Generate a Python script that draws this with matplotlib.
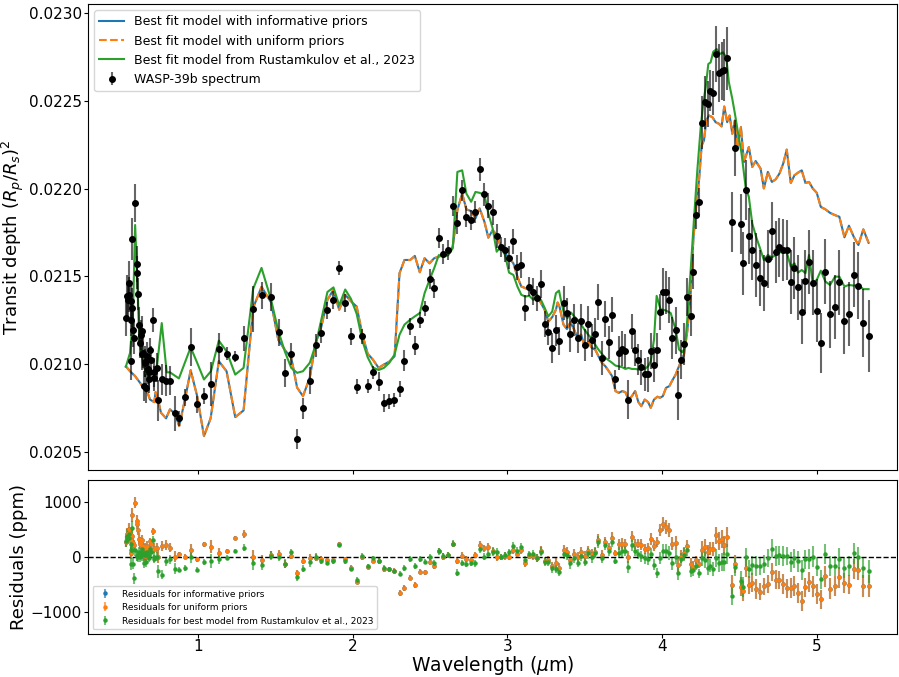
import numpy as np
import matplotlib
matplotlib.use('Agg')
import matplotlib.pyplot as plt
from matplotlib.ticker import FormatStrFormatter

# WASP-39b spectrum (wavelength in micron, depth and error in ppm)
wl = [0.534,0.540,0.545,0.555,0.557,0.566,0.568,0.570,0.572,0.574,
      0.581,0.587,0.594,0.605,0.607,0.611,0.621,0.623,0.629,0.637,
      0.639,0.647,0.649,0.655,0.658,0.665,0.669,0.675,0.681,0.684,
      0.690,0.695,0.708,0.716,0.718,0.734,0.744,0.766,0.794,0.819,
      0.852,0.879,0.918,0.953,0.995,1.039,1.084,1.135,1.185,1.241,
      1.295,1.357,1.411,1.474,1.523,1.561,1.603,1.641,1.679,1.723,
      1.761,1.798,1.837,1.875,1.913,1.952,1.989,2.026,2.063,2.097,
      2.131,2.168,2.202,2.237,2.268,2.303,2.335,2.372,2.402,2.434,
      2.465,2.497,2.527,2.557,2.587,2.617,2.647,2.677,2.708,2.735,
      2.766,2.794,2.821,2.852,2.877,2.905,2.931,2.959,2.985,3.011,
      3.039,3.065,3.090,3.116,3.142,3.168,3.192,3.217,3.241,3.265,
      3.290,3.314,3.337,3.363,3.385,3.408,3.432,3.454,3.477,3.499,
      3.523,3.546,3.568,3.589,3.611,3.634,3.656,3.677,3.699,3.721,
      3.742,3.763,3.783,3.805,3.826,3.847,3.866,3.888,3.910,3.927,
      3.948,3.970,3.987,4.006,4.028,4.047,4.066,4.087,4.105,4.125,
      4.140,4.163,4.185,4.202,4.221,4.239,4.256,4.277,4.295,4.310,
      4.327,4.348,4.368,4.385,4.402,4.421,4.454,4.474,4.508,4.525,
      4.544,4.561,4.583,4.606,4.632,4.658,4.684,4.710,4.735,4.759,
      4.783,4.806,4.832,4.855,4.879,4.903,4.927,4.950,4.974,5.000,
      5.026,5.056,5.086,5.118,5.146,5.179,5.208,5.239,5.268,5.300,
      5.335]
depth = [21265,21390,21367,21465,21396,21358,21254,21022,21713,21322,
         21197,21152,21919,21571,21522,21401,21226,21124,21169,21188,
         21061,21067,20876,21016,21010,20863,21046,20976,20954,20914,
         21080,21027,21254,20954,20920,20982,20795,20914,20908,20908,
         20721,20693,20812,21097,20772,20819,20891,21090,21061,21044,
         21148,21315,21392,21383,21182,20952,21061,20578,20749,20908,
         21108,21179,21307,21367,21549,21350,21159,20872,21159,20876,
         20955,20901,20779,20789,20795,20861,21022,21216,21107,21252,
         21320,21485,21434,21721,21626,21651,21900,21806,21991,21840,
         21821,21865,22110,21968,21902,21865,21732,21666,21649,21607,
         21700,21553,21566,21320,21443,21414,21375,21458,21231,21182,
         21094,21193,21131,21349,21292,21173,21254,21148,21248,21112,
         21230,21137,21175,21354,21037,21258,21125,21282,20914,21065,
         21090,21077,20800,21188,21084,21027,20984,20944,20944,21077,
         20999,21084,21298,21414,21410,21366,21150,21193,20823,21027,
         21118,21384,21277,21528,21849,21925,22375,22492,22482,22558,
         22545,22766,22658,22671,22675,22741,21808,22229,21798,21575,
         21991,21730,21651,21566,21490,21464,21597,21759,21639,21665,
         21651,21651,21469,21547,21439,21299,21477,21583,21465,21305,
         21122,21528,21286,21326,21468,21248,21286,21509,21448,21235,
         21163]
err = [105,120,110,123,100,110,95,110,120,110,
       100,95,108,100,95,90,100,90,85,90,
       95,90,85,90,80,85,80,85,80,75,
       70,75,68,85,70,85,118,90,87,85,
       100,42,47,108,47,47,125,88,38,33,
       71,132,75,78,75,78,63,57,62,75,
       66,58,50,52,40,50,47,43,43,38,
       38,54,50,43,40,47,57,47,52,47,
       43,55,54,57,57,57,57,62,60,59,
       57,62,66,66,71,71,68,57,68,64,
       73,71,75,75,55,75,71,80,74,71,
       85,90,80,95,85,100,90,85,95,90,
       100,95,90,104,95,100,95,100,52,95,
       100,95,113,100,95,90,100,95,100,104,
       100,95,104,132,123,132,118,132,140,113,
       120,110,115,100,76,76,151,151,132,118,
       127,160,165,165,175,180,170,160,170,180,
       170,160,170,180,160,160,165,165,175,170,
       175,170,180,175,185,184,175,180,185,180,
       170,185,190,180,185,190,180,185,190,195,
       206]

# best fit models (ppm)
wl_fit = [0.534,0.561,0.594,0.626,0.647,0.675,0.690,0.718,0.726,0.744,
          0.761,0.794,0.819,0.852,0.879,0.916,0.953,0.995,1.039,1.082,
          1.135,1.185,1.241,1.295,1.357,1.411,1.473,1.519,1.565,1.603,
          1.641,1.679,1.723,1.761,1.798,1.837,1.875,1.913,1.952,1.990,
          2.026,2.063,2.097,2.131,2.168,2.202,2.237,2.271,2.303,2.335,
          2.372,2.402,2.434,2.465,2.497,2.527,2.557,2.587,2.617,2.647,
          2.677,2.708,2.735,2.766,2.794,2.821,2.852,2.877,2.905,2.931,
          2.959,2.985,3.011,3.039,3.065,3.090,3.116,3.142,3.168,3.192,
          3.217,3.241,3.265,3.290,3.314,3.325,3.337,3.363,3.385,3.408,
          3.432,3.454,3.477,3.499,3.523,3.546,3.568,3.589,3.611,3.634,
          3.656,3.677,3.699,3.721,3.742,3.763,3.783,3.805,3.826,3.847,
          3.866,3.888,3.910,3.927,3.948,3.970,3.987,4.005,4.026,4.047,
          4.066,4.088,4.105,4.123,4.142,4.163,4.185,4.202,4.221,4.239,
          4.256,4.271,4.286,4.303,4.325,4.346,4.368,4.385,4.402,4.421,
          4.437,4.454,4.471,4.488,4.510,4.529,4.561,4.583,4.605,4.637,
          4.658,4.684,4.710,4.735,4.759,4.783,4.806,4.832,4.856,4.879,
          4.903,4.927,4.950,4.974,5.000,5.026,5.056,5.086,5.118,5.146,
          5.179,5.208,5.239,5.269,5.301,5.335]
fit_informative = [20989,20961,20933,20895,20867,20838,20800,20785,20842,20791,
                   20725,20693,20744,20719,20649,20800,20967,20819,20592,20693,
                   21018,20961,20700,20738,21322,21441,21352,21141,21078,21039,
                   20868,20819,20925,21122,21216,21367,21424,21311,21396,21358,
                   21329,21169,21061,21027,20980,20999,21016,21046,21519,21594,
                   21594,21617,21524,21604,21575,21604,21613,21622,21622,21670,
                   21878,21972,21882,21872,21831,21887,21811,21721,21764,21736,
                   21666,21632,21604,21575,21499,21443,21434,21424,21396,21390,
                   21349,21311,21243,21269,21311,21352,21329,21226,21201,21239,
                   21197,21150,21169,21103,21125,21094,21084,21046,21009,20989,
                   20961,20933,20848,20838,20848,20842,20800,20819,20848,20785,
                   20762,20800,20785,20753,20800,20816,20810,20819,20867,20876,
                   20908,20942,20980,21018,21056,21188,21405,21707,21906,22048,
                   22246,22274,22388,22416,22407,22378,22369,22354,22467,22378,
                   22416,22312,22388,22236,22350,22151,22236,22123,22157,22114,
                   22001,22095,22038,22053,22086,22142,22222,22032,22076,22091,
                   22104,22032,22038,22001,21976,21896,21882,21862,21849,21840,
                   21723,21789,21726,21679,21768,21692]
fit_uniform = list(fit_informative)

wl_r23 = [0.534,0.561,0.579,0.594,0.608,0.621,0.637,0.647,0.679,0.701,
          0.734,0.766,0.798,0.819,0.877,0.953,0.995,1.039,1.084,1.135,
          1.185,1.241,1.295,1.357,1.411,1.473,1.519,1.563,1.603,1.641,
          1.679,1.723,1.761,1.799,1.837,1.876,1.913,1.952,1.989,2.026,
          2.063,2.097,2.131,2.168,2.202,2.237,2.271,2.303,2.335,2.372,
          2.402,2.434,2.465,2.497,2.527,2.557,2.587,2.617,2.647,2.677,
          2.708,2.735,2.766,2.794,2.821,2.852,2.877,2.905,2.931,2.959,
          2.985,3.011,3.039,3.065,3.090,3.116,3.142,3.168,3.192,3.217,
          3.241,3.265,3.290,3.314,3.334,3.346,3.368,3.389,3.411,3.432,
          3.454,3.477,3.499,3.523,3.546,3.568,3.589,3.611,3.634,3.656,
          3.677,3.699,3.721,3.742,3.763,3.783,3.805,3.826,3.847,3.866,
          3.888,3.910,3.927,3.948,3.965,3.990,4.024,4.056,4.088,4.110,
          4.131,4.148,4.163,4.185,4.206,4.228,4.250,4.266,4.282,4.299,
          4.314,4.331,4.353,4.374,4.394,4.415,4.432,4.454,4.471,4.492,
          4.514,4.540,4.561,4.583,4.608,4.637,4.658,4.684,4.710,4.735,
          4.759,4.783,4.806,4.832,4.856,4.879,4.903,4.927,4.950,4.974,
          5.000,5.026,5.056,5.086,5.118,5.146,5.179,5.208,5.239,5.269,
          5.301,5.335]
r23_depth = [20986,21065,21254,21793,21481,21141,21046,20989,20933,20942,
             20980,21235,20955,20955,20920,21097,21009,20914,20961,21135,
             21074,20942,20980,21430,21549,21367,21192,21070,20980,20952,
             20961,21009,21112,21260,21412,21438,21336,21426,21373,21288,
             21135,21041,20982,20968,20980,21009,21056,21169,21226,21254,
             21273,21292,21405,21481,21547,21622,21613,21622,21660,22095,
             22104,21972,21925,21981,21976,21963,21859,21774,21641,21670,
             21622,21522,21509,21443,21396,21386,21390,21367,21396,21367,
             21322,21273,21301,21405,21420,21367,21282,21264,21295,21273,
             21254,21226,21197,21169,21145,21112,21084,21060,21037,21023,
             21009,20993,20989,20984,20974,20980,20974,20974,20971,20974,
             20974,20989,21018,21141,21390,21314,21307,21292,21197,21084,
             21069,21094,21254,21537,21821,22104,22350,22482,22577,22709,
             22718,22779,22794,22766,22775,22747,22605,22511,22426,22312,
             22199,22010,21953,21802,21726,21651,21594,21622,21609,21622,
             21638,21638,21638,21556,21575,21522,21537,21519,21622,21462,
             21481,21533,21471,21452,21499,21499,21443,21452,21448,21452,
             21428,21428]

wl = np.array(wl)
depth = np.array(depth)
err = np.array(err)

# residuals in ppm: data minus model at the data wavelengths
res_inf = depth - np.interp(wl, wl_fit, fit_informative)
res_uni = depth - np.interp(wl, wl_fit, fit_uniform)
res_r23 = depth - np.interp(wl, wl_r23, r23_depth)

fig = plt.figure(figsize=(8.99, 6.77), dpi=100)
ax1 = fig.add_axes([0.098, 0.306, 0.900, 0.688])
ax2 = fig.add_axes([0.098, 0.064, 0.900, 0.227], sharex=ax1)

ax1.plot(wl_fit, np.array(fit_informative) / 1e6, color='tab:blue', lw=1.5,
         label='Best fit model with informative priors')
ax1.plot(wl_fit, np.array(fit_uniform) / 1e6, color='tab:orange', lw=1.5, ls='--',
         label='Best fit model with uniform priors')
ax1.plot(wl_r23, np.array(r23_depth) / 1e6, color='tab:green', lw=1.5,
         label='Best fit model from Rustamkulov et al., 2023')
ax1.errorbar(wl, depth / 1e6, yerr=err / 1e6, fmt='o', color='k', ms=4,
             ecolor=(0, 0, 0, 0.6), elinewidth=1.5, label='WASP-39b spectrum')

ax1.set_xlim(0.29, 5.52)
ax1.set_ylim(0.02040, 0.02305)
ax1.yaxis.set_major_formatter(FormatStrFormatter('%.4f'))
ax1.set_ylabel('Transit depth $(R_p/R_s)^2$', fontsize=13, labelpad=2)
ax1.tick_params(labelsize=11, length=3, pad=1.5)
ax1.tick_params(axis='x', labelbottom=False)
ax1.legend(loc='upper left', fontsize=9)

for res, c, lab in [(res_inf, 'tab:blue', 'Residuals for informative priors'),
                    (res_uni, 'tab:orange', 'Residuals for uniform priors'),
                    (res_r23, 'tab:green', 'Residuals for best model from Rustamkulov et al., 2023')]:
    ax2.errorbar(wl, res, yerr=err, fmt='o', color=c, ms=2.2,
                 ecolor=matplotlib.colors.to_rgba(c, 0.65), elinewidth=1.5, label=lab)
ax2.axhline(0, color='k', ls='--', lw=1)
ax2.set_ylim(-1395, 1395)
ax2.set_ylabel('Residuals (ppm)', fontsize=13, labelpad=2)
ax2.set_xlabel('Wavelength ($\\mu$m)', fontsize=13.5, labelpad=0)
ax2.tick_params(labelsize=11, length=3, pad=1.5)
ax2.tick_params(axis='x', pad=0.5)
ax2.legend(loc='lower left', fontsize=6.5)

fig.savefig('out.png', dpi=100)
